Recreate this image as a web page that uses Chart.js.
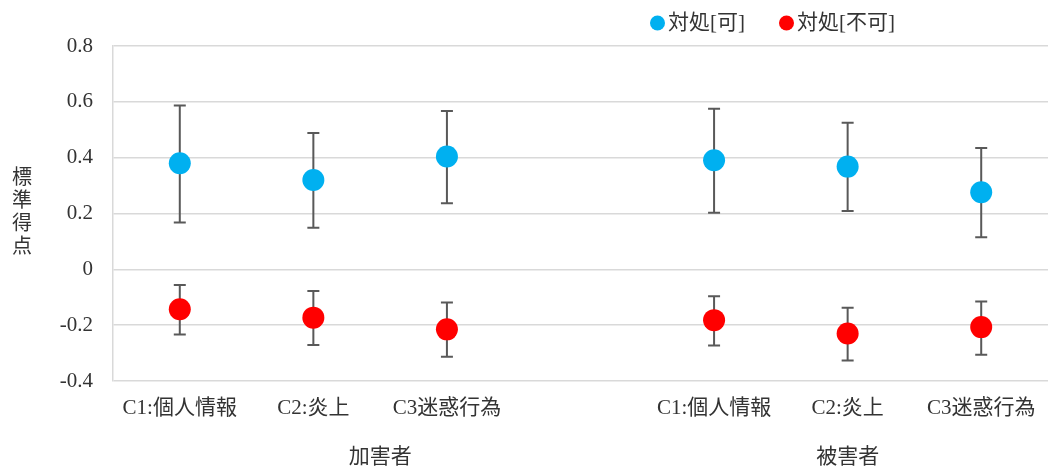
<!DOCTYPE html>
<html>
<head>
<meta charset="utf-8">
<script src="https://cdn.jsdelivr.net/npm/chart.js@4"></script>
<style>
  html, body { margin: 0; padding: 0; background: #fff; overflow: hidden; }
  #wrap { position: relative; width: 1048px; height: 467px; }
</style>
</head>
<body>
<div id="wrap"><canvas id="chart"></canvas></div>
<script>
'use strict';

// categories (empty slot separates the two groups)
const categories = ['C1:個人情報', 'C2:炎上', 'C3迷惑行為', '', 'C1:個人情報', 'C2:炎上', 'C3迷惑行為'];
const groupNames = ['加害者', '被害者'];
const groupSpans = [[0, 3], [4, 6]];

const seriesNames = ['対処[可]', '対処[不可]'];

// 対処[可]
const canMean = [0.380, 0.320, 0.404, null, 0.391, 0.368, 0.276];
const canHigh = [0.587, 0.488, 0.567, null, 0.575, 0.525, 0.435];
const canLow = [0.168, 0.149, 0.237, null, 0.203, 0.209, 0.115];

// 対処[不可]
const cannotMean = [-0.143, -0.173, -0.215, null, -0.182, -0.230, -0.207];
const cannotHigh = [-0.056, -0.078, -0.119, null, -0.096, -0.138, -0.115];
const cannotLow = [-0.233, -0.271, -0.313, null, -0.273, -0.327, -0.306];

const yTitle = '標準得点';
const yMin = -0.4, yMax = 0.8, yStep = 0.2;

const FONT = "'Liberation Serif', 'Noto Sans CJK JP', serif";
const TEXT = '#333333';
const colors = ['#00B0F0', '#FF0000'];

const extras = {
  id: 'extras',
  beforeDatasetsDraw(chart) {
    const ctx = chart.ctx;
    const y = chart.scales.y;
    const bars = [[canHigh, canLow], [cannotHigh, cannotLow]];
    ctx.save();
    ctx.strokeStyle = '#595959';
    ctx.lineWidth = 2;
    bars.forEach(([hi, lo], di) => {
      const meta = chart.getDatasetMeta(di);
      meta.data.forEach((pt, i) => {
        if (hi[i] == null) return;
        const x = pt.x;
        const yh = y.getPixelForValue(hi[i]);
        const yl = y.getPixelForValue(lo[i]);
        ctx.beginPath();
        ctx.moveTo(x, yh); ctx.lineTo(x, yl);
        ctx.moveTo(x - 6, yh); ctx.lineTo(x + 6, yh);
        ctx.moveTo(x - 6, yl); ctx.lineTo(x + 6, yl);
        ctx.stroke();
      });
    });
    ctx.restore();
  },
  afterDraw(chart) {
    const ctx = chart.ctx;
    const area = chart.chartArea;
    const xs = chart.scales.x;
    ctx.save();
    ctx.fillStyle = TEXT;
    ctx.font = '20px ' + FONT;
    ctx.textAlign = 'center';
    ctx.textBaseline = 'middle';

    // vertical stacked axis title
    const chars = Array.from(yTitle);
    const step = 23;
    const cy = (area.top + area.bottom) / 2 - (chars.length - 1) * step / 2;
    chars.forEach((c, i) => ctx.fillText(c, 22, cy + i * step));

    // group labels
    ctx.font = '21px ' + FONT;
    groupNames.forEach((g, i) => {
      const [a, b] = groupSpans[i];
      const gx = (xs.getPixelForValue(a) + xs.getPixelForValue(b)) / 2;
      ctx.fillText(g, gx, 457);
    });

    // legend
    ctx.textAlign = 'left';
    const legendX = [650, 779];
    seriesNames.forEach((name, i) => {
      const lx = legendX[i];
      ctx.fillStyle = colors[i];
      ctx.beginPath();
      ctx.arc(lx + 7.5, 23, 7.5, 0, Math.PI * 2);
      ctx.fill();
      ctx.fillStyle = TEXT;
      ctx.fillText(name, lx + 18, 23);
    });
    ctx.restore();
  }
};

new Chart(document.getElementById('chart'), {
  type: 'line',
  data: {
    labels: categories,
    datasets: [
      {
        label: seriesNames[0],
        data: canMean,
        showLine: false,
        pointRadius: 11,
        pointHoverRadius: 11,
        pointBackgroundColor: colors[0],
        pointBorderWidth: 0,
        borderColor: colors[0],
        backgroundColor: colors[0],
      },
      {
        label: seriesNames[1],
        data: cannotMean,
        showLine: false,
        pointRadius: 11,
        pointHoverRadius: 11,
        pointBackgroundColor: colors[1],
        pointBorderWidth: 0,
        borderColor: colors[1],
        backgroundColor: colors[1],
      }
    ]
  },
  options: {
    responsive: true,
    maintainAspectRatio: false,
    animation: false,
    layout: { autoPadding: false, padding: { top: 46, right: -3, bottom: 0, left: 0 } },
    plugins: {
      legend: { display: false },
      tooltip: { enabled: false }
    },
    scales: {
      x: {
        offset: true,
        grid: { display: false, drawTicks: false },
        border: { display: false },
        ticks: {
          color: TEXT,
          font: { family: FONT, size: 21 },
          padding: 15,
          maxRotation: 0,
          autoSkip: false
        },
        afterFit: (s) => { s.height = 86; s.paddingLeft = 0; s.paddingRight = 0; }
      },
      y: {
        min: yMin,
        max: yMax,
        grid: { color: '#D9D9D9', lineWidth: 1.5, drawTicks: false },
        border: { display: true, color: '#D9D9D9', width: 1.5 },
        ticks: {
          stepSize: yStep,
          color: TEXT,
          font: { family: FONT, size: 21 },
          padding: 20,
          callback: (v) => String(Number(v.toFixed(1)))
        },
        afterFit: (s) => { s.width = 113; }
      }
    }
  },
  plugins: [extras]
});
</script>
</body>
</html>
